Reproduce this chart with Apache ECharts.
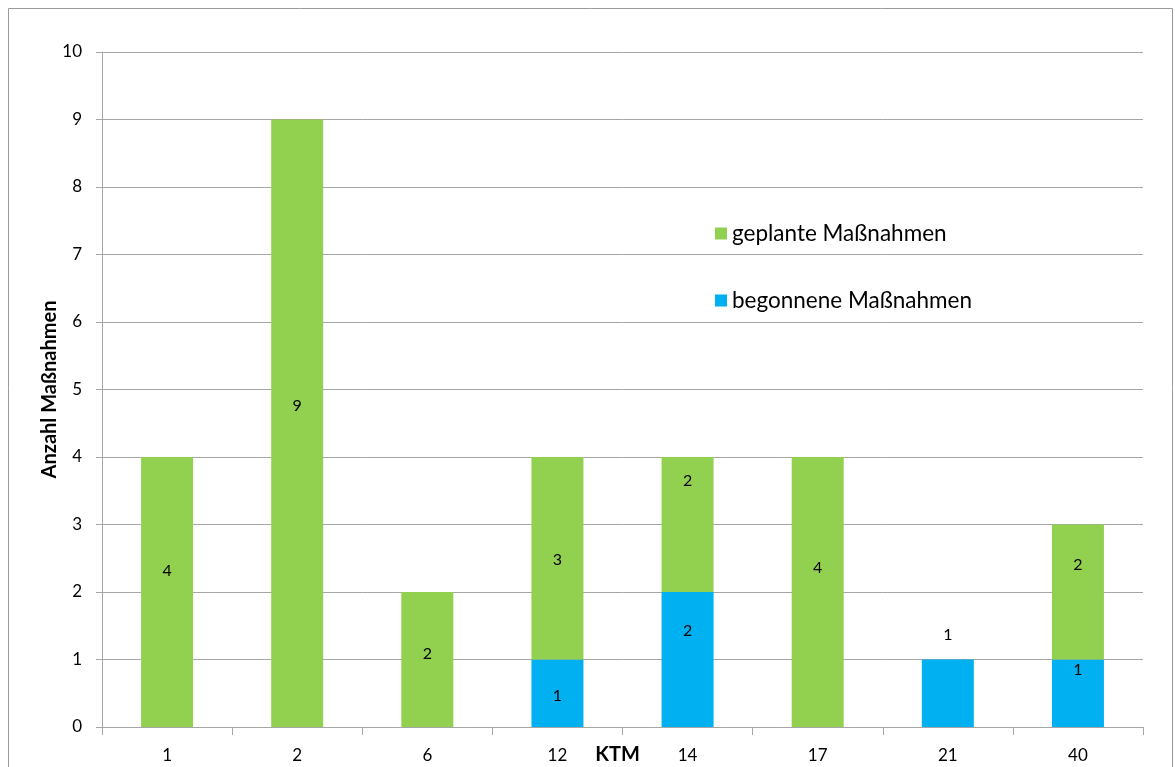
<!DOCTYPE html>
<html>
<head>
<meta charset="utf-8">
<script src="https://cdn.jsdelivr.net/npm/echarts@6/dist/echarts.min.js"></script>
<style>
  html, body { margin: 0; padding: 0; background: #fff; }
  #chart { width: 1175px; height: 767px; }
</style>
</head>
<body>
<div id="chart"></div>
<script>
// KTM categories and measure counts
const categories = ['1', '2', '6', '12', '14', '17', '21', '40'];
const begonnene = [0, 0, 0, 1, 2, 0, 1, 1];
const geplante = [4, 9, 2, 3, 2, 4, 0, 2];
const yTicks = [0, 1, 2, 3, 4, 5, 6, 7, 8, 9, 10];

// vertical nudges (px) for the value labels
const geplanteLabelShift = [-21, -17, -6, 2, -44, -24, 0, -27];
const begonneneLabelShift = [0, 0, 0, 3, -29, 0, 0, -23];

const FONT = 'Lato, "Open Sans", sans-serif';
const GREEN = '#92D050';
const BLUE = '#00B0F0';
const GRID = '#A6A6A6';

function labelled(values, shifts, name) {
  return values.map((v, i) => {
    const item = { value: v };
    if (v === 0) {
      item.label = { show: false };
    } else if (name === 'beg' && categories[i] === '21') {
      item.label = { show: true, position: 'top', distance: 17 };
    } else {
      item.label = { show: true, position: 'inside', offset: [0, shifts[i]] };
    }
    return item;
  });
}

const chart = echarts.init(document.getElementById('chart'));
chart.setOption({
  animation: false,
  textStyle: { fontFamily: FONT },
  graphic: [{
    type: 'rect',
    shape: { x: 8.5, y: 8.5, width: 1164, height: 800 },
    style: { fill: 'none', stroke: '#9a9a9a', lineWidth: 1 },
    silent: true
  }],
  grid: { left: 102, right: 32, top: 52, bottom: 40, outerBoundsMode: 'none', containLabel: false },
  legend: {
    orient: 'vertical',
    left: 710,
    top: 217,
    itemGap: 44,
    itemWidth: 12,
    itemHeight: 12,
    icon: 'rect',
    data: ['geplante Maßnahmen', 'begonnene Maßnahmen'],
    textStyle: { fontSize: 22.5, color: '#000', fontFamily: FONT }
  },
  xAxis: {
    type: 'category',
    data: categories,
    name: 'KTM',
    nameLocation: 'middle',
    nameGap: 18,
    nameMoveOverlap: false,
    nameTextStyle: { fontSize: 20, fontWeight: 'bold', color: '#000', fontFamily: FONT, padding: [0, 10, 0, 0] },
    axisLine: { lineStyle: { color: GRID } },
    axisTick: { show: true, length: 8, lineStyle: { color: GRID } },
    axisLabel: { fontSize: 17, color: '#000', margin: 20, fontFamily: FONT }
  },
  yAxis: {
    type: 'value',
    min: yTicks[0],
    max: yTicks[yTicks.length - 1],
    interval: 1,
    name: 'Anzahl Maßnahmen',
    nameLocation: 'middle',
    nameGap: 42,
    nameMoveOverlap: false,
    nameTextStyle: { fontSize: 20, fontWeight: 'bold', color: '#000', fontFamily: FONT },
    axisLine: { show: true, lineStyle: { color: GRID } },
    axisTick: { show: true, length: 6, lineStyle: { color: GRID } },
    axisLabel: { fontSize: 17, color: '#000', margin: 20, fontFamily: FONT },
    splitLine: { lineStyle: { color: GRID } }
  },
  series: [
    {
      name: 'begonnene Maßnahmen',
      type: 'bar',
      stack: 'ktm',
      barWidth: 52,
      itemStyle: { color: BLUE },
      label: { color: '#000', fontSize: 16, fontFamily: FONT },
      data: labelled(begonnene, begonneneLabelShift, 'beg')
    },
    {
      name: 'geplante Maßnahmen',
      type: 'bar',
      stack: 'ktm',
      barWidth: 52,
      itemStyle: { color: GREEN },
      label: { color: '#000', fontSize: 16, fontFamily: FONT },
      data: labelled(geplante, geplanteLabelShift, 'gep')
    }
  ]
});
</script>
</body>
</html>
